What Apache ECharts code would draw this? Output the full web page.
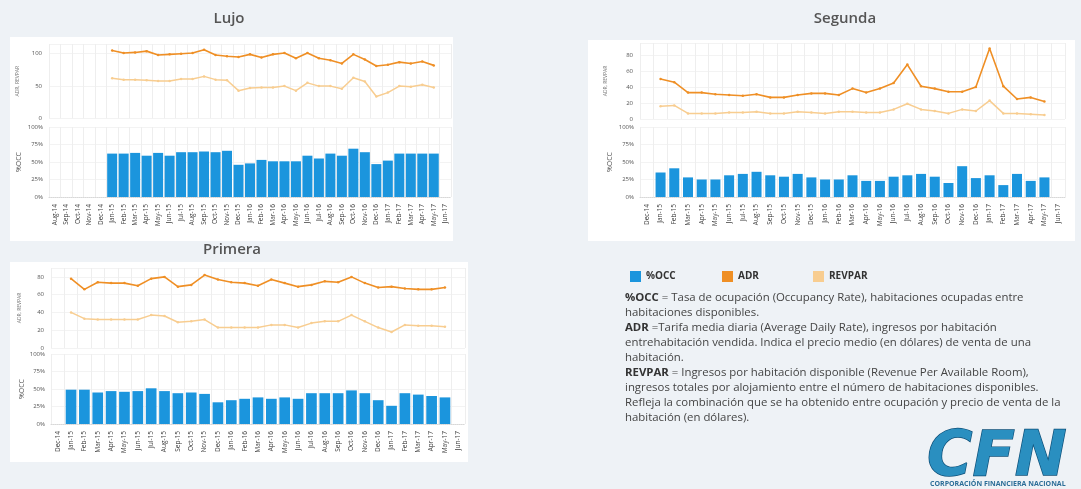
<!DOCTYPE html>
<html>
<head>
<meta charset="utf-8">
<script src="https://cdn.jsdelivr.net/npm/echarts@6/dist/echarts.min.js"></script>
<style>
  html, body { margin: 0; padding: 0; background: #eef2f6; }
  #chart { width: 1081px; height: 489px; }
</style>
</head>
<body>
<div id="chart"></div>
<script>
// Month labels for each panel
const monthsLujo = ['Aug-14','Sep-14','Oct-14','Nov-14','Dec-14','Jan-15','Feb-15','Mar-15','Apr-15','May-15','Jun-15','Jul-15','Aug-15','Sep-15','Oct-15','Nov-15','Dec-15','Jan-16','Feb-16','Mar-16','Apr-16','May-16','Jun-16','Jul-16','Aug-16','Sep-16','Oct-16','Nov-16','Dec-16','Jan-17','Feb-17','Mar-17','Apr-17','May-17','Jun-17'];
const monthsRest = ['Dec-14','Jan-15','Feb-15','Mar-15','Apr-15','May-15','Jun-15','Jul-15','Aug-15','Sep-15','Oct-15','Nov-15','Dec-15','Jan-16','Feb-16','Mar-16','Apr-16','May-16','Jun-16','Jul-16','Aug-16','Sep-16','Oct-16','Nov-16','Dec-16','Jan-17','Feb-17','Mar-17','Apr-17','May-17','Jun-17'];

// Lujo
const lujoOcc    = [null,null,null,null,null, 62,62,63,59,63,59,64,64,65,64, 66,46,48,53,51,51,51,59,55,62, 59,69,64,47,52,62,62,62,62, null];
const lujoAdr    = [null,null,null,null,null, 105,101,102,104,98,99,100,101,106,98, 96,95,99,94,99,101,93,101,93,90, 85,99,91,81,83,87,85,88,82, null];
const lujoRevpar = [null,null,null,null,null, 62,60,60,59,58,58,61,61,65,60, 59,43,47,48,48,50,43,55,50,50, 46,63,57,34,40,50,49,52,48, null];

// Segunda
const segOcc    = [null, 35,41,28,25,25,31,33,36,31,29, 33,28,25,25,31,23,23,29,31,33, 29,20,44,27,31,17,33,23,28, null];
const segAdr    = [null, 50,46,33,33,31,30,29,31,27,27, 30,32,32,30,38,33,38,45,68,41, 38,34,34,40,88,41,25,27,22, null];
const segRevpar = [null, 16,17,7,7,7,8,8,9,7,7, 9,8,7,9,9,8,8,12,19,12, 10,7,12,10,23,7,7,6,5, null];

// Primera
const priOcc    = [null, 49,49,45,47,46,47,51,47,44,45, 43,31,34,36,38,36,38,36,44,44, 44,48,44,34,26,44,42,40,38, null];
const priAdr    = [null, 78,66,74,73,73,70,78,80,69,71, 82,77,74,73,70,77,73,69,71,75, 74,80,73,68,69,67,66,66,68, null];
const priRevpar = [null, 40,33,32,32,32,32,37,36,29,30, 32,23,23,23,23,26,26,23,28,30, 30,37,30,23,18,26,25,25,24, null];

const legendNames = ['%OCC', 'ADR', 'REVPAR'];

const C_OCC = '#1b95dd';
const C_ADR = '#ef8f25';
const C_REV = '#f8cd90';
const FONT = '"Open Sans", "Noto Sans", sans-serif';

const chart = echarts.init(document.getElementById('chart'), null, { renderer: 'canvas' });

// Panel layout: line grid on top, bar grid below
const panels = [
  { cats: monthsLujo, occ: lujoOcc, adr: lujoAdr, rev: lujoRevpar,
    left: 49, width: 402, lineTop: 44, lineH: 74.5, lineMax: 115, lineInt: 50,
    barTop: 127, barH: 70, gap: '13%', nameGapL: 29, nameGapB: 27 },
  { cats: monthsRest, occ: segOcc, adr: segAdr, rev: segRevpar,
    left: 640, width: 425, lineTop: 43, lineH: 76, lineMax: 95, lineInt: 20,
    barTop: 127, barH: 70, gap: '27%', nameGapL: 32, nameGapB: 27 },
  { cats: monthsRest, occ: priOcc, adr: priAdr, rev: priRevpar,
    left: 51, width: 414, lineTop: 268, lineH: 80, lineMax: 90, lineInt: 20,
    barTop: 354, barH: 70, gap: '20%', nameGapL: 29, nameGapB: 25 }
];

const grid = [], xAxis = [], yAxis = [], series = [];
panels.forEach((p, i) => {
  const gl = i * 2, gb = i * 2 + 1;
  grid.push({ left: p.left, top: p.lineTop, width: p.width, height: p.lineH });
  grid.push({ left: p.left, top: p.barTop, width: p.width, height: p.barH });

  xAxis.push({
    type: 'category', gridIndex: gl, data: p.cats,
    axisLabel: { show: false }, axisTick: { show: false }, axisLine: { show: false },
    splitLine: { show: true, interval: 0, lineStyle: { color: '#eeeeee', width: 1 } }
  });
  xAxis.push({
    type: 'category', gridIndex: gb, data: p.cats,
    axisLabel: { interval: 0, rotate: 90, fontSize: 6.5, color: '#3c3c3c', margin: 7, fontFamily: FONT },
    axisTick: { show: false },
    axisLine: { show: true, lineStyle: { color: '#d8d8d8', type: 'dotted' } },
    splitLine: { show: true, interval: 0, lineStyle: { color: '#eeeeee', width: 1 } }
  });

  yAxis.push({
    type: 'value', gridIndex: gl, min: 0, max: p.lineMax, interval: p.lineInt,
    name: 'ADR, REVPAR', nameLocation: 'middle', nameGap: p.nameGapL,
    nameTextStyle: { fontSize: 5, color: '#777', fontFamily: FONT },
    axisLabel: { fontSize: 6, color: '#555', margin: 7, showMaxLabel: false, fontFamily: FONT },
    axisLine: { show: false }, axisTick: { show: false },
    splitLine: { lineStyle: { color: '#f3f3f3' } }
  });
  yAxis.push({
    type: 'value', gridIndex: gb, min: 0, max: 100, interval: 25,
    name: '%OCC', nameLocation: 'middle', nameGap: p.nameGapB,
    nameTextStyle: { fontSize: 7, color: '#555', fontFamily: FONT },
    axisLabel: { fontSize: 6, color: '#555', margin: 6, formatter: '{value}%', fontFamily: FONT },
    axisLine: { show: false }, axisTick: { show: false },
    splitLine: { lineStyle: { color: '#f3f3f3' } }
  });

  series.push({
    name: '%OCC', type: 'bar', xAxisIndex: gb, yAxisIndex: gb, data: p.occ,
    barCategoryGap: p.gap, itemStyle: { color: C_OCC }, animation: false
  });
  series.push({
    name: 'REVPAR', type: 'line', xAxisIndex: gl, yAxisIndex: gl, data: p.rev,
    symbol: 'circle', symbolSize: 2.5, lineStyle: { color: C_REV, width: 1.5 },
    itemStyle: { color: C_REV }, animation: false
  });
  series.push({
    name: 'ADR', type: 'line', xAxisIndex: gl, yAxisIndex: gl, data: p.adr,
    symbol: 'circle', symbolSize: 2.5, lineStyle: { color: C_ADR, width: 1.6 },
    itemStyle: { color: C_ADR }, animation: false
  });
});

// Legend: one component per entry so each sits at its own position
const legendLefts = [625, 717, 808];
const legend = legendNames.map((n, i) => ({
  data: [n], left: legendLefts[i], top: 266, icon: 'rect',
  itemWidth: 11, itemHeight: 11, itemGap: 0, selectedMode: false,
  textStyle: { fontSize: 10, fontWeight: 'bold', color: '#333', fontFamily: FONT }
}));

// Definitions text
const noteLines = [
  '{b|%OCC} = Tasa de ocupación (Occupancy Rate), habitaciones ocupadas entre',
  'habitaciones disponibles.',
  '{b|ADR} =Tarifa media diaria (Average Daily Rate), ingresos por habitación',
  'entrehabitación vendida. Indica el precio medio (en dólares) de venta de una',
  'habitación.',
  '{b|REVPAR} = Ingresos por habitación disponible (Revenue Per Available Room),',
  'ingresos totales por alojamiento entre el número de habitaciones disponibles.',
  'Refleja la combinación que se ha obtenido entre ocupación y precio de venta de la',
  'habitación (en dólares).'
];

const graphic = [
  // white panel backgrounds
  { type: 'rect', left: 10, top: 37, shape: { width: 443, height: 204 }, style: { fill: '#ffffff' }, z: -10 },
  { type: 'rect', left: 10, top: 262, shape: { width: 458, height: 200 }, style: { fill: '#ffffff' }, z: -10 },
  { type: 'rect', left: 588, top: 40, shape: { width: 487, height: 201 }, style: { fill: '#ffffff' }, z: -10 },
  // panel titles
  { type: 'text', x: 229, y: 11, style: { text: 'Lujo', fontSize: 15, fontWeight: 600, fill: '#555', fontFamily: FONT, align: 'center' } },
  { type: 'text', x: 845, y: 11, style: { text: 'Segunda', fontSize: 15, fontWeight: 600, fill: '#555', fontFamily: FONT, align: 'center' } },
  { type: 'text', x: 232, y: 242, style: { text: 'Primera', fontSize: 15, fontWeight: 600, fill: '#555', fontFamily: FONT, align: 'center' } }
];

noteLines.forEach((t, i) => {
  graphic.push({
    type: 'text', x: 625, y: 292 + i * 15,
    style: {
      text: '{n|' + t.replace(/\{b\|([^}]*)\}/g, '}{b|$1}{n|') + '}',
      rich: {
        n: { fontSize: 11.4, fill: '#444', fontFamily: FONT },
        b: { fontSize: 11.4, fill: '#333', fontWeight: 'bold', fontFamily: FONT }
      }
    }
  });
});

// CFN logo
graphic.push({
  type: 'text', x: 927, y: 428,
  style: {
    text: 'CFN', fontSize: 62, fontStyle: 'italic', fontWeight: 'bold', fontFamily: '"DejaVu Sans", sans-serif',
    fill: '#2a8fc0', stroke: '#0d4f78', lineWidth: 1.4
  }
});
graphic.push({
  type: 'text', x: 930, y: 480,
  style: { text: 'CORPORACIÓN FINANCIERA NACIONAL', fontSize: 7, fontWeight: 'bold', fill: '#2c6e98', fontFamily: FONT }
});

chart.setOption({
  backgroundColor: '#eef2f6',
  animation: false,
  textStyle: { fontFamily: FONT },
  grid, xAxis, yAxis, series, legend, graphic
});
</script>
</body>
</html>
